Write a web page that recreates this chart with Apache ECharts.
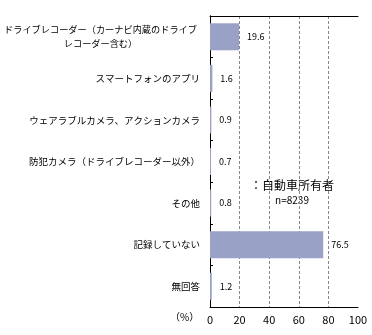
<!DOCTYPE html>
<html>
<head>
<meta charset="utf-8">
<script src="https://cdn.jsdelivr.net/npm/echarts@6/dist/echarts.min.js"></script>
<style>
html,body{margin:0;padding:0;background:#fff;}
#c{width:372px;height:335px;}
</style>
</head>
<body>
<div id="c"></div>
<script>
var categories = [
  'ドライブレコーダー（カーナビ内蔵のドライブ\nレコーダー含む）',
  'スマートフォンのアプリ',
  'ウェアラブルカメラ、アクションカメラ',
  '防犯カメラ（ドライブレコーダー以外）',
  'その他',
  '記録していない',
  '無回答'
];
var values = [19.6, 1.6, 0.9, 0.7, 0.8, 76.5, 1.2];
var xTicks = [0, 20, 40, 60, 80, 100];
var noteLines = ['：自動車所有者', 'n=8239'];
var unitLabel = '（%）';

var FONT = '"Noto Sans CJK JP", sans-serif';
var chart = echarts.init(document.getElementById('c'), null, {renderer: 'canvas'});
var blackLine = {show: true, lineStyle: {color: '#000', width: 1}};
chart.setOption({
  animation: false,
  backgroundColor: '#fff',
  grid: {left: 210, right: 14, top: 16, bottom: 28, containLabel: false, outerBoundsMode: 'none'},
  xAxis: [{
    type: 'value', min: xTicks[0], max: xTicks[xTicks.length - 1], interval: 20,
    axisLine: blackLine, axisTick: {show: false},
    axisLabel: {color: '#000', fontFamily: FONT, fontSize: 11, margin: 7},
    splitLine: {show: true, lineStyle: {color: ['transparent', '#888', '#888', '#888', '#888', 'transparent'], type: [3, 2], width: 1}}
  }, {
    type: 'value', position: 'top', min: xTicks[0], max: xTicks[xTicks.length - 1], interval: 20,
    axisLine: blackLine, axisTick: {show: false}, axisLabel: {show: false}, splitLine: {show: false}
  }],
  yAxis: [{
    type: 'category', data: categories, inverse: true,
    axisLine: blackLine,
    axisTick: {show: true, inside: true, length: 3, lineStyle: {color: '#000'}},
    axisLabel: {
      color: '#000', fontFamily: FONT, fontSize: 9.5, margin: 10,
      formatter: function (v) {
        if (v.indexOf('\n') >= 0) {
          return v.split('\n').map(function (s) { return '{c|' + s + '}'; }).join('\n');
        }
        return v;
      },
      rich: {c: {width: 199, align: 'center', fontFamily: FONT, fontSize: 9.2, color: '#000', lineHeight: 14}}
    }
  }, {
    type: 'category', data: categories, inverse: true, position: 'right',
    axisLine: blackLine, axisTick: {show: false}, axisLabel: {show: false}, splitLine: {show: false}
  }],
  series: [{
    type: 'bar', data: values, barWidth: '65%',
    itemStyle: {color: '#9aa1c7'},
    label: {show: true, position: 'right', distance: 8, color: '#000', fontFamily: FONT, fontSize: 9,
      formatter: function (p) { return p.value.toFixed(1); }}
  }],
  graphic: [
    {type: 'text', left: 170, top: 312, style: {text: unitLabel, fill: '#000', font: '10px ' + FONT}},
    {type: 'text', x: 292, y: 185, style: {text: noteLines[0], fill: '#000', font: '12px ' + FONT, textAlign: 'center', textVerticalAlign: 'middle'}},
    {type: 'text', x: 292, y: 200, style: {text: noteLines[1], fill: '#000', font: '10px ' + FONT, textAlign: 'center', textVerticalAlign: 'middle'}}
  ]
});
</script>
</body>
</html>
